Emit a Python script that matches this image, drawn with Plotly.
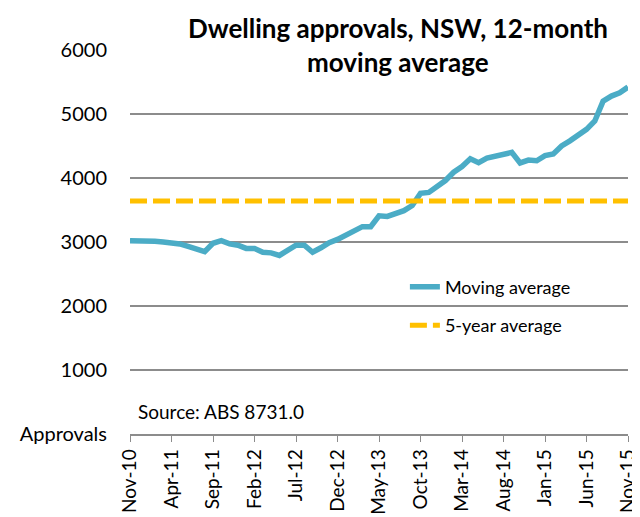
import pandas as pd
import plotly.graph_objects as go

# Monthly categories Nov-10 .. Nov-15
months = list(pd.date_range('2010-11-01', '2015-11-01', freq='MS').strftime('%b-%y'))

# NSW dwelling approvals, 12-month moving average
moving_avg = [
    3020, 3020, 3030, 3010, 3000, 2990, 2970, 2930, 2890, 2850,
    2980, 3020, 2970, 2950, 2900, 2900, 2840, 2830, 2790, 2880,
    2950, 2950, 2840, 2910, 2990, 3040, 3100, 3160, 3240, 3240,
    3410, 3400, 3440, 3490, 3570, 3760, 3775, 3865, 3960, 4090,
    4180, 4300, 4240, 4310, 4340, 4385, 4400, 4235, 4280, 4270,
    4350, 4375, 4500, 4580, 4660, 4760, 4890, 5200, 5280, 5330,
    5420,
]
five_year_avg = 3640

x_ticks = ['Nov-10', 'Apr-11', 'Sep-11', 'Feb-12', 'Jul-12', 'Dec-12', 'May-13',
           'Oct-13', 'Mar-14', 'Aug-14', 'Jan-15', 'Jun-15', 'Nov-15']
y_ticks = [0, 1000, 2000, 3000, 4000, 5000, 6000]
y_tick_text = ['Approvals', '1000', '2000', '3000', '4000', '5000', '6000']

FONT = 'Lato'
TEAL = '#4BACC6'
GOLD = '#FFC000'
GRID = '#8C8C8C'

# the page body adds an 8px margin, so the figure is drawn 8px smaller
# and the margins are trimmed to keep the plot area where the reference has it
fig = go.Figure()
fig.add_trace(go.Scatter(x=months, y=moving_avg, mode='lines', name='Moving average',
                         legendgroup='a', line=dict(color=TEAL, width=5.5)))
fig.add_trace(go.Scatter(x=[months[0], months[-1]], y=[five_year_avg, five_year_avg],
                         mode='lines', name='5-year average', legendgroup='b',
                         line=dict(color=GOLD, width=5, dash='17px,6px')))

fig.update_layout(
    width=632, height=509,
    margin=dict(l=122, r=12, t=42, b=83, autoexpand=False),
    paper_bgcolor='white', plot_bgcolor='white',
    font=dict(family=FONT, size=20, color='black'),
    showlegend=True,
    legend=dict(x=0.552, y=0.333, xanchor='left', yanchor='middle',
                bgcolor='rgba(0,0,0,0)', font=dict(size=18),
                traceorder='grouped', tracegroupgap=12),
    xaxis=dict(type='category', categoryorder='array', categoryarray=months,
               range=[0, 60], tickmode='array', tickvals=x_ticks, ticktext=x_ticks,
               tickangle=-90, showgrid=False, showline=True, linecolor=GRID,
               linewidth=1.5, ticks='outside', ticklen=6, tickcolor=GRID,
               tickfont=dict(size=19), automargin=False),
    yaxis=dict(range=[0, 6000], tickmode='array', tickvals=y_ticks, ticktext=y_tick_text,
               showgrid=True, gridcolor=GRID, gridwidth=1.5, zeroline=False,
               showline=False, ticks='', ticklabelstandoff=22, tickfont=dict(size=20),
               automargin=False),
)

# two-line bold title
fig.add_annotation(text='<b>Dwelling approvals, NSW, 12-month</b>', xref='paper', yref='paper',
                   x=0.538, y=(434 - 28) / 384, xanchor='center', yanchor='middle',
                   showarrow=False, font=dict(size=26, family=FONT))
fig.add_annotation(text='<b>moving average</b>', xref='paper', yref='paper',
                   x=0.538, y=(434 - 62) / 384, xanchor='center', yanchor='middle',
                   showarrow=False, font=dict(size=26, family=FONT))
fig.add_annotation(text='Source: ABS 8731.0', xref='paper', yref='paper',
                   x=0.012, y=(434 - 411) / 384, xanchor='left', yanchor='middle',
                   showarrow=False, font=dict(size=19, family=FONT))

fig.write_html("out.html")
